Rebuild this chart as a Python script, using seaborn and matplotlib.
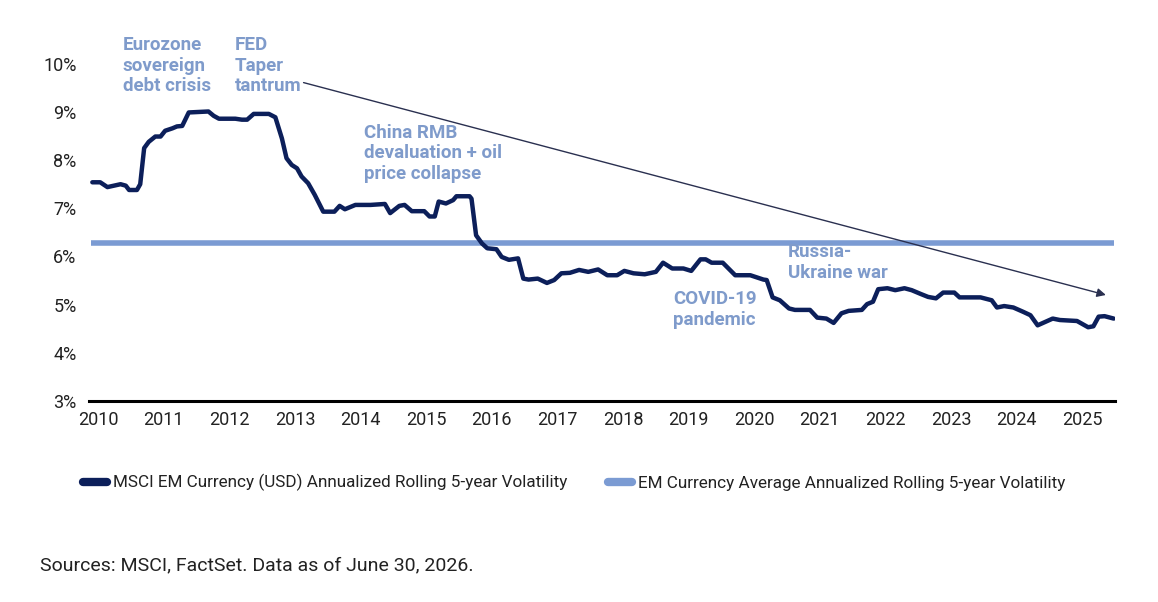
import numpy as np
import pandas as pd
import matplotlib
matplotlib.use("Agg")
import matplotlib.pyplot as plt
import matplotlib.font_manager as fm
from matplotlib.lines import Line2D
import seaborn as sns

# ---------------- data ----------------
years = [2009.91, 2010.03, 2010.14, 2010.24, 2010.34, 2010.42, 2010.47, 2010.59, 2010.64, 2010.70,
         2010.77, 2010.87, 2010.95, 2011.02, 2011.13, 2011.20, 2011.28, 2011.38, 2011.68, 2011.76,
         2011.84, 2012.09, 2012.19, 2012.27, 2012.37, 2012.60, 2012.70, 2012.80, 2012.87, 2012.95,
         2013.03, 2013.10, 2013.20, 2013.30, 2013.43, 2013.60, 2013.68, 2013.76, 2013.92, 2014.15,
         2014.37, 2014.45, 2014.59, 2014.67, 2014.78, 2014.97, 2015.05, 2015.13, 2015.19, 2015.30,
         2015.41, 2015.46, 2015.66, 2015.69, 2015.76, 2015.85, 2015.93, 2016.07, 2016.15, 2016.26,
         2016.40, 2016.48, 2016.56, 2016.70, 2016.84, 2016.95, 2017.06, 2017.19, 2017.33, 2017.47,
         2017.62, 2017.76, 2017.91, 2018.02, 2018.16, 2018.33, 2018.50, 2018.61, 2018.75, 2018.92,
         2019.04, 2019.18, 2019.26, 2019.35, 2019.52, 2019.71, 2019.94, 2020.14, 2020.19, 2020.28,
         2020.39, 2020.53, 2020.62, 2020.85, 2020.96, 2021.10, 2021.21, 2021.33, 2021.44, 2021.64,
         2021.72, 2021.81, 2021.89, 2022.03, 2022.15, 2022.29, 2022.40, 2022.54, 2022.65, 2022.77,
         2022.88, 2023.05, 2023.13, 2023.45, 2023.62, 2023.70, 2023.81, 2023.95, 2024.10, 2024.21,
         2024.32, 2024.55, 2024.66, 2024.92, 2025.09, 2025.17, 2025.25, 2025.34, 2025.48]
msci_vol = [7.54, 7.54, 7.44, 7.47, 7.50, 7.47, 7.38, 7.38, 7.50, 8.25,
            8.38, 8.49, 8.49, 8.61, 8.66, 8.70, 8.71, 8.99, 9.01, 8.92,
            8.86, 8.86, 8.84, 8.84, 8.96, 8.96, 8.89, 8.45, 8.04, 7.90,
            7.83, 7.66, 7.52, 7.28, 6.93, 6.93, 7.05, 6.98, 7.07, 7.07,
            7.09, 6.90, 7.05, 7.07, 6.94, 6.94, 6.83, 6.83, 7.14, 7.10,
            7.17, 7.25, 7.25, 7.20, 6.44, 6.27, 6.17, 6.15, 5.99, 5.93,
            5.96, 5.54, 5.52, 5.54, 5.45, 5.51, 5.65, 5.66, 5.72, 5.68,
            5.73, 5.61, 5.61, 5.70, 5.65, 5.63, 5.68, 5.87, 5.75, 5.75,
            5.70, 5.94, 5.94, 5.87, 5.87, 5.61, 5.61, 5.52, 5.51, 5.15,
            5.09, 4.92, 4.89, 4.89, 4.73, 4.71, 4.62, 4.82, 4.87, 4.89,
            5.01, 5.06, 5.32, 5.34, 5.30, 5.34, 5.30, 5.22, 5.16, 5.13,
            5.25, 5.25, 5.15, 5.15, 5.09, 4.94, 4.97, 4.94, 4.85, 4.78,
            4.57, 4.71, 4.68, 4.66, 4.53, 4.55, 4.75, 4.76, 4.71]
avg_years = [2009.89, 2025.49]
avg_vol = [6.27, 6.27]

year_ticks = list(range(2010, 2026))
pct_ticks = [3, 4, 5, 6, 7, 8, 9, 10]

series_labels = ["MSCI EM Currency (USD) Annualized Rolling 5-year Volatility",
                 "EM Currency Average Annualized Rolling 5-year Volatility"]

events = ["Eurozone\nsovereign\ndebt crisis", "FED\nTaper\ntantrum",
          "China RMB\ndevaluation + oil\nprice collapse", "COVID-19\npandemic",
          "Russia-\nUkraine war"]
event_x = [2010.37, 2012.08, 2014.05, 2018.76, 2020.51]
event_y = [10.58, 10.58, 8.76, 5.30, 6.28]

trend_start = (2013.13, 9.61)
trend_end = (2025.36, 5.20)

source_text = "Sources: MSCI, FactSet. Data as of June 30, 2026."

# ---------------- style ----------------
DARK = "#0c1f5a"
LIGHT = "#7b9bd3"
ANNOT = "#7f9bcb"

sns.set_theme(style="white")
names = {f.name for f in fm.fontManager.ttflist}
narrow = "Liberation Sans Narrow" if "Liberation Sans Narrow" in names else "Roboto"
plt.rcParams["font.family"] = [narrow, "DejaVu Sans"]

fig = plt.figure(figsize=(11.58, 6.02), dpi=100)
ax = fig.add_axes([0.0769, 0.334, 0.886, 0.560])

df = pd.DataFrame({"year": years, "vol": msci_vol})
df_avg = pd.DataFrame({"year": avg_years, "vol": avg_vol})

sns.lineplot(data=df_avg, x="year", y="vol", ax=ax, color=LIGHT, linewidth=4.0,
             solid_capstyle="butt")
sns.lineplot(data=df, x="year", y="vol", ax=ax, color=DARK, linewidth=3.2,
             solid_joinstyle="round", solid_capstyle="round")

ax.set_xlim(2009.86, 2025.50)
ax.set_ylim(3, 10)
ax.set_xticks(year_ticks)
ax.set_xticklabels([str(y) for y in year_ticks])
ax.set_yticks(pct_ticks)
ax.set_yticklabels([f"{p}%" for p in pct_ticks])
ax.set_xlabel("")
ax.set_ylabel("")
for s in ["top", "right", "left"]:
    ax.spines[s].set_visible(False)
ax.spines["bottom"].set_color("black")
ax.spines["bottom"].set_linewidth(2.2)
ax.tick_params(axis="both", length=0, labelsize=13, colors="#222222")
ax.tick_params(axis="x", pad=7)
ax.tick_params(axis="y", pad=9)
ax.grid(False)

# event annotations
for txt, x, y in zip(events, event_x, event_y):
    ax.text(x, y, txt, color=ANNOT, fontsize=13.5, fontweight="bold",
            ha="left", va="top", linespacing=1.2, clip_on=False)

# trend arrow
ax.annotate("", xy=trend_end, xytext=trend_start,
            arrowprops=dict(arrowstyle="-|>", color="#2a3050", lw=1.0,
                            mutation_scale=13, shrinkA=0, shrinkB=0))

# legend
handles = [Line2D([0], [0], color=DARK, lw=6, solid_capstyle="round"),
           Line2D([0], [0], color=LIGHT, lw=6, solid_capstyle="round")]
fig.legend(handles, series_labels, loc="center", bbox_to_anchor=(0.496, 0.198),
           ncol=2, frameon=False, fontsize=12.3, handlelength=1.4, handletextpad=0.35,
           columnspacing=2.4, labelcolor="#222222")

fig.text(40 / 1158, 1 - 565 / 602, source_text, fontsize=14, color="#222222",
         family=["Roboto", "DejaVu Sans"], ha="left", va="center")

fig.savefig("out.png", dpi=100)
